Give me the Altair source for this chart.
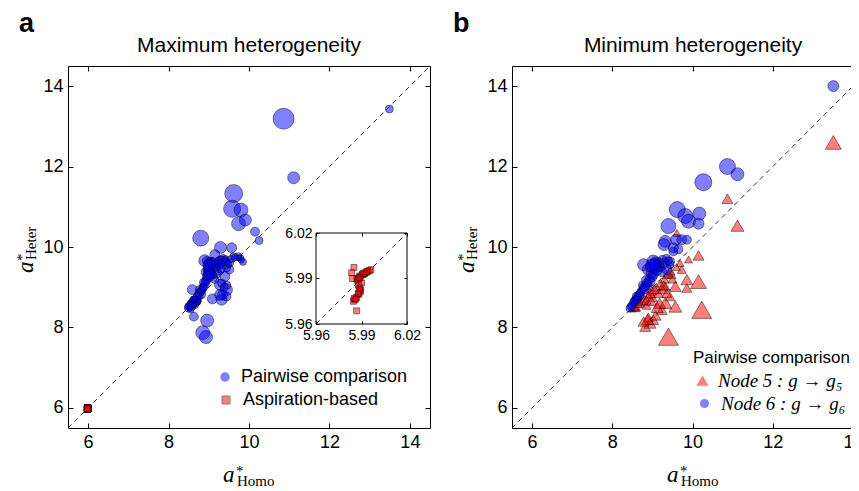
import altair as alt
import pandas as pd

# ---------------- data ----------------
# Panel a: pairwise comparison (a*_Homo, a*_Heter, marker weight)
pa_x = [10.86, 13.49, 11.11, 9.62, 9.58, 9.80, 9.74, 9.91, 10.15, 10.25, 8.80, 9.29, 9.57, 9.79,
        9.85, 8.90, 8.59, 8.63, 8.96, 8.85, 8.93, 9.28, 9.44, 9.09, 9.32, 9.44, 9.19, 9.40, 9.51,
        9.15, 9.73, 9.28, 9.34,
        8.49, 8.53, 8.56, 8.61, 8.66, 8.70, 8.74, 8.78, 8.82, 8.85, 8.90, 8.95, 9.01, 9.03, 8.98,
        9.05, 9.10, 9.15, 9.22, 9.28, 9.32, 9.36, 9.44, 9.52, 9.61, 9.75, 9.81, 9.00, 8.95, 9.05,
        8.62, 8.58, 8.68, 8.75, 8.88, 9.10, 9.20, 9.35, 9.45, 8.52, 8.57, 8.72, 8.80, 8.92, 9.02,
        9.00, 9.25, 9.40, 9.30, 9.45, 9.38,
        8.50, 8.55, 8.60, 8.64, 8.70, 8.76, 8.83, 8.87, 8.93, 8.97, 9.00, 9.04, 9.08, 9.12, 9.18,
        9.24, 9.30, 9.33, 9.42, 9.48, 9.55, 9.65, 8.98, 9.02, 8.96, 9.06, 8.66, 8.72, 8.55, 8.62]
pa_y = [13.19, 13.43, 11.72, 11.33, 10.95, 10.92, 10.58, 10.67, 10.38, 10.16, 10.22, 9.99, 9.98, 9.72,
        9.63, 9.66, 8.94, 8.27, 8.17, 7.87, 7.76, 8.81, 8.94, 8.71, 8.69, 8.77, 9.35, 9.27, 9.44,
        9.81, 9.76, 9.06, 8.81,
        8.48, 8.54, 8.58, 8.65, 8.56, 8.73, 8.69, 8.94, 8.81, 8.98, 9.06, 9.20, 9.61, 9.35, 9.45,
        9.50, 9.55, 9.19, 9.40, 9.67, 9.10, 9.70, 9.48, 9.60, 9.77, 9.73, 9.67, 9.30, 9.65, 9.65,
        8.60, 8.50, 8.62, 8.85, 9.12, 9.30, 9.55, 9.55, 9.62, 8.50, 8.62, 8.78, 8.90, 9.38, 9.40,
        9.55, 9.60, 9.65, 9.45, 9.05, 9.00,
        8.52, 8.57, 8.55, 8.68, 8.66, 8.80, 8.92, 9.00, 9.15, 9.30, 9.42, 9.36, 9.60, 9.62, 9.50,
        9.64, 9.58, 9.68, 9.70, 9.58, 9.70, 9.74, 9.55, 9.25, 9.28, 9.58, 8.70, 8.64, 8.45, 8.70]
pa_w = [21, 8, 12, 18, 17, 14, 14, 12, 9, 8, 16, 12, 10, 7,
        7, 12, 10, 9, 13, 14, 13, 11, 12, 10, 11, 9, 10, 10, 9,
        10, 8, 11, 10,
        8, 8, 8, 8, 7, 8, 7, 9, 8, 8, 9, 9, 10, 11, 10,
        9, 9, 8, 8, 9, 8, 9, 8, 8, 7, 6, 6, 10, 9, 8,
        8, 7, 8, 8, 9, 8, 8, 8, 7, 7, 7, 8, 8, 9, 10,
        9, 8, 8, 8, 8, 8,
        8, 8, 7, 8, 8, 8, 8, 8, 9, 9, 10, 9, 9, 9, 8,
        8, 8, 8, 7, 7, 7, 7, 10, 9, 9, 8, 7, 7, 7, 7]

# Panel a: aspiration-based (all near 5.99, shown in the inset)
asp_x = [5.9850, 5.9835, 5.9840, 5.9870, 5.9885, 5.9895, 5.9910, 5.9920, 5.9930, 5.9942, 5.9952,
         5.9962, 5.9905, 5.9880, 5.9875, 5.9880, 5.9890, 5.9895, 5.9890, 5.9880, 5.9868, 5.9855,
         5.9846, 5.9852, 5.9868, 5.9900, 5.9885, 5.9915, 5.9935, 5.9890, 5.9878, 5.9862]
asp_y = [5.9973, 5.9938, 5.9900, 5.9900, 5.9912, 5.9918, 5.9925, 5.9932, 5.9940, 5.9947, 5.9953,
         5.9958, 5.9930, 5.9895, 5.9885, 5.9856, 5.9840, 5.9820, 5.9810, 5.9795, 5.9775, 5.9760,
         5.9750, 5.9770, 5.9687, 5.9870, 5.9830, 5.9935, 5.9945, 5.9905, 5.9800, 5.9765]

# Panel b: node 6 (circles)
n6_x = [13.51, 10.87, 11.12, 10.27, 9.62, 9.82, 9.90, 10.17, 10.15, 9.40, 9.32, 9.59, 9.73, 9.86,
        9.65, 9.52, 9.29, 9.52, 9.02, 8.78, 8.90, 9.15, 9.23, 9.36, 9.44,
        8.44, 8.50, 8.53, 8.58, 8.61, 8.65, 8.69, 8.72, 8.78, 8.82, 8.86, 8.94, 8.98, 9.00, 9.05,
        9.10, 9.18, 9.25, 9.35, 9.44, 8.95, 9.08, 8.60, 8.75,
        8.47, 8.55, 8.63, 8.70, 8.80, 8.88, 8.92, 9.02, 9.12, 9.20, 9.30, 9.40, 9.06, 8.99, 8.84]
n6_y = [14.00, 12.00, 11.81, 11.61, 10.93, 10.77, 10.64, 10.83, 10.58, 10.52, 10.14, 10.18, 10.18, 10.18,
        9.94, 9.89, 10.06, 9.98, 9.64, 9.56, 9.44, 9.52, 9.39, 9.44, 9.64,
        8.48, 8.55, 8.62, 8.70, 8.69, 8.80, 8.81, 8.90, 8.98, 9.02, 9.10, 9.14, 9.35, 9.25, 9.45,
        9.55, 9.62, 9.68, 9.72, 9.56, 9.50, 9.62, 8.78, 9.05,
        8.52, 8.66, 8.75, 8.86, 8.95, 9.05, 9.20, 9.32, 9.42, 9.50, 9.60, 9.66, 9.58, 9.55, 9.18]
n6_w = [11, 16, 13, 17, 16, 15, 14, 13, 11, 15, 12, 11, 10, 9,
        9, 9, 12, 10, 13, 12, 12, 11, 10, 10, 9,
        8, 8, 8, 8, 9, 8, 9, 8, 9, 9, 9, 10, 11, 9, 10,
        10, 9, 9, 8, 8, 10, 11, 8, 8,
        8, 8, 8, 8, 9, 9, 9, 10, 10, 9, 9, 8, 11, 12, 9]

# Panel b: node 5 (triangles)
n5_x = [13.51, 10.87, 11.12, 10.15, 9.90, 9.69, 10.15, 10.23, 9.40, 9.86, 9.86, 9.57, 9.57, 9.32,
        9.23, 8.94, 8.82, 9.02, 8.90, 9.61, 9.73, 9.48, 9.44, 9.32, 9.60, 9.50,
        8.50, 8.60, 8.70, 8.80, 8.90, 9.00, 9.10, 9.20, 9.30, 9.00, 9.15, 9.25, 8.85, 9.35, 8.60,
        8.55, 8.65, 8.75, 8.95, 9.05, 9.40, 9.45, 8.85, 8.98, 9.28,
        8.88, 9.08, 9.18, 9.36, 8.78, 9.12]
n5_y = [12.60, 11.20, 10.53, 9.79, 9.69, 9.60, 9.14, 8.44, 7.77, 9.19, 8.98, 9.02, 8.52, 8.61,
        8.44, 8.11, 8.02, 8.19, 8.25, 10.35, 9.44, 9.31, 8.77, 9.02, 9.50, 9.20,
        8.47, 8.50, 8.60, 8.70, 8.80, 8.90, 9.00, 9.10, 9.20, 8.75, 8.85, 8.95, 8.55, 9.30, 8.48,
        8.50, 8.58, 8.65, 8.85, 8.95, 9.35, 9.40, 8.68, 8.65, 9.05,
        8.20, 8.30, 8.60, 8.85, 8.15, 8.50]
n5_w = [16, 11, 13, 11, 8, 8, 16, 20, 20, 12, 10, 12, 13, 13,
        11, 12, 11, 11, 10, 8, 9, 9, 10, 10, 8, 9,
        8, 8, 9, 9, 9, 9, 9, 9, 9, 10, 10, 10, 9, 8, 8,
        8, 8, 9, 10, 10, 9, 9, 10, 10, 10,
        12, 11, 12, 10, 11, 12]

TICKS = [6, 8, 10, 12, 14]
DOMAIN_A = [5.5, 14.5]
DOMAIN_B_X = [5.5, 14.15]
INSET_TICKS = [5.96, 5.99, 6.02]

TITLE_A = "Maximum heterogeneity"
TITLE_B = "Minimum heterogeneity"
LEG_A = ["Pairwise comparison", "Aspiration-based"]
LEG_B_TITLE = "Pairwise comparison"
LEG_B = ["Node 5 : g \u2192 g\u2085", "Node 6 : g \u2192 g\u2086"]

# ---------------- styling ----------------
FONT = "Liberation Sans"
SERIF = "Liberation Serif"
W = H = 362
WB = 347
BLUE = "#0000ff"
RED = "#ff0000"

dfA = pd.DataFrame({"x": pa_x, "y": pa_y, "w": pa_w, "s": LEG_A[0]})
dfAsp = pd.DataFrame({"x": asp_x, "y": asp_y, "s": LEG_A[1]})
df6 = pd.DataFrame({"x": n6_x, "y": n6_y, "w": n6_w, "s": LEG_B[1]})
df5 = pd.DataFrame({"x": n5_x, "y": n5_y, "w": n5_w, "s": LEG_B[0]})
diag = pd.DataFrame({"v": DOMAIN_A})
diag_in = pd.DataFrame({"v": [INSET_TICKS[0], INSET_TICKS[-1]]})
box_in = pd.DataFrame({"x1": [INSET_TICKS[0]], "x2": [INSET_TICKS[-1]],
                       "y1": [INSET_TICKS[0]], "y2": [INSET_TICKS[-1]]})

# inset placement in pixels inside panel a
IN_X = [248, 339]
IN_Y = [258, 167]


def sc(dom, rng=None):
    kw = dict(domain=dom, nice=False, zero=False)
    if rng is not None:
        kw["range"] = rng
    return alt.Scale(**kw)


def ax(orient, values, offset, labels=True, size=18, tick=5, pad=5):
    return alt.Axis(orient=orient, values=values, offset=offset, labels=labels, ticks=True,
                    tickSize=tick, tickColor="black", tickWidth=1, domain=False, grid=False,
                    title=None, labelFont=FONT, labelFontSize=size, labelColor="black",
                    labelPadding=pad, labelFlush=False, labelOverlap=False)


def frame_ax(orient):
    return alt.Axis(orient=orient, offset=0, domain=True, domainColor="black", domainWidth=1,
                    ticks=False, labels=False, grid=False, title=None)


SIZE = alt.Size("w:Q", scale=alt.Scale(type="pow", exponent=2, domain=[0, 20], range=[0, 400]),
                legend=None)


def base_layers(df, xdom, ydom, right=True):
    bl = alt.Chart(df).mark_point(opacity=0).encode(
        x=alt.X("x:Q", scale=sc(xdom), axis=ax("bottom", TICKS, -5)),
        y=alt.Y("y:Q", scale=sc(ydom), axis=ax("left", TICKS, -5)))
    tr = alt.Chart(df).mark_point(opacity=0).encode(
        x=alt.X("x:Q", scale=sc(xdom), axis=ax("top", TICKS, -5, labels=False)),
        y=alt.Y("y:Q", scale=sc(ydom), axis=ax("right", TICKS, -5, labels=False) if right else None))
    f1 = alt.Chart(df).mark_point(opacity=0).encode(
        x=alt.X("x:Q", scale=sc(xdom), axis=frame_ax("bottom")),
        y=alt.Y("y:Q", scale=sc(ydom), axis=frame_ax("left")))
    f2 = alt.Chart(df).mark_point(opacity=0).encode(
        x=alt.X("x:Q", scale=sc(xdom), axis=frame_ax("top")),
        y=alt.Y("y:Q", scale=sc(ydom), axis=frame_ax("right") if right else None))
    dl = alt.Chart(diag).mark_line(color="black", strokeWidth=0.8, strokeDash=[5, 4], clip=True).encode(
        x=alt.X("v:Q", scale=sc(xdom), axis=None), y=alt.Y("v:Q", scale=sc(ydom), axis=None))
    return [bl, tr, f1, f2, dl]


def leg(x, y, shape, size, offset, font=FONT, style="normal", title=None, stroke=0, fs=18, **kw):
    return alt.Legend(orient="none", legendX=x, legendY=y, title=title, symbolType=shape,
                      symbolSize=size, symbolOpacity=0.5, symbolStrokeWidth=stroke,
                      symbolStrokeColor="black", labelFont=font, labelFontSize=fs,
                      labelFontStyle=style, labelColor="black", labelOffset=offset, padding=0,
                      labelLimit=400, **kw)


def txt(s, x, y, **kw):
    props = dict(font=FONT, fontSize=15, align="left", baseline="alphabetic", color="black")
    props.update(kw)
    return alt.Chart(pd.DataFrame({"t": [s]})).mark_text(**props).encode(
        text="t:N", x=alt.value(x), y=alt.value(y))


def texts(letter, lx, ytitle_dx, title):
    return [
        txt(letter, lx, -34, fontSize=27, fontWeight="bold"),
        txt(title, 181, -14, fontSize=21, align="center"),
        # x title a*_Homo
        txt("a", 155, 416, font=SERIF, fontSize=23, fontStyle="italic"),
        txt("*", 168, 410, font=SERIF),
        txt("Homo", 169, 420, font=SERIF),
        # y title a*_Heter (rotated)
        txt("a", ytitle_dx, 207, font=SERIF, fontSize=23, fontStyle="italic", angle=270),
        txt("*", ytitle_dx - 6, 195, font=SERIF, angle=270),
        txt("Heter", ytitle_dx + 3, 194, font=SERIF, angle=270),
    ]


PT = dict(filled=True, opacity=1, fillOpacity=0.5, stroke="black", strokeOpacity=0.45, strokeWidth=1)

# ---------------- panel a ----------------
asp_main = alt.Chart(dfAsp).mark_point(shape="square", size=40, **PT).encode(
    x=alt.X("x:Q", scale=sc(DOMAIN_A), axis=None), y=alt.Y("y:Q", scale=sc(DOMAIN_A), axis=None),
    color=alt.Color("s:N", scale=alt.Scale(domain=[LEG_A[1]], range=[RED]),
                    legend=leg(149, 325, "square", 64, 8, stroke=1)))
circ_a = alt.Chart(dfA).mark_point(shape="circle", **PT).encode(
    x=alt.X("x:Q", scale=sc(DOMAIN_A), axis=None), y=alt.Y("y:Q", scale=sc(DOMAIN_A), axis=None),
    size=SIZE,
    color=alt.Color("s:N", scale=alt.Scale(domain=[LEG_A[0]], range=[BLUE]),
                    legend=leg(148, 302, "circle", 90, 7)))
IDOM = [INSET_TICKS[0], INSET_TICKS[-1]]
in_box = alt.Chart(box_in).mark_rect(fillOpacity=0, stroke="black", strokeWidth=1).encode(
    x=alt.X("x1:Q", scale=sc(IDOM, IN_X), axis=ax("top", INSET_TICKS, -170, labels=False, tick=3)),
    x2="x2:Q",
    y=alt.Y("y1:Q", scale=sc(IDOM, IN_Y), axis=ax("right", INSET_TICKS, -26, labels=False, tick=3)),
    y2="y2:Q")
in_diag = alt.Chart(diag_in).mark_line(color="black", strokeWidth=0.8, strokeDash=[5, 4]).encode(
    x=alt.X("v:Q", scale=sc(IDOM, IN_X), axis=None),
    y=alt.Y("v:Q", scale=sc(IDOM, IN_Y), axis=None))
in_sq = alt.Chart(dfAsp).mark_point(shape="square", size=36, **PT).encode(
    x=alt.X("x:Q", scale=sc(IDOM, IN_X), axis=ax("bottom", INSET_TICKS, -107, size=14, tick=3, pad=4)),
    y=alt.Y("y:Q", scale=sc(IDOM, IN_Y), axis=ax("left", INSET_TICKS, -251, size=14, tick=3, pad=4)),
    color=alt.Color("s:N", scale=alt.Scale(domain=[LEG_A[1]], range=[RED]), legend=None))

panel_a = alt.layer(*base_layers(dfA, DOMAIN_A, DOMAIN_A), asp_main, circ_a, in_box, in_diag, in_sq,
                    *texts("a", -49, -35, TITLE_A)).resolve_scale(
    x="independent", y="independent", color="independent", size="independent").properties(
    width=W, height=H)

# ---------------- panel b ----------------
tri = alt.Chart(df5).mark_point(shape="triangle-up", **PT).encode(
    x=alt.X("x:Q", scale=sc(DOMAIN_B_X), axis=None), y=alt.Y("y:Q", scale=sc(DOMAIN_A), axis=None),
    size=SIZE,
    color=alt.Color("s:N", scale=alt.Scale(domain=[LEG_B[0]], range=[RED]),
                    legend=leg(181, 284, "triangle-up", 150, 6, font=SERIF, style="italic", fs=19,
                               title=LEG_B_TITLE, titleFont=FONT, titleFontSize=17,
                               titleFontWeight="normal", titleColor="black", titlePadding=4)))
circ_b = alt.Chart(df6).mark_point(shape="circle", **PT).encode(
    x=alt.X("x:Q", scale=sc(DOMAIN_B_X), axis=None), y=alt.Y("y:Q", scale=sc(DOMAIN_A), axis=None),
    size=SIZE,
    color=alt.Color("s:N", scale=alt.Scale(domain=[LEG_B[1]], range=[BLUE]),
                    legend=leg(183, 328, "circle", 81, 7, font=SERIF, style="italic", fs=19)))

panel_b = alt.layer(*base_layers(df6, DOMAIN_B_X, DOMAIN_A, right=False), tri, circ_b,
                    *texts("b", -59, -38, TITLE_B)).resolve_scale(
    x="independent", y="independent", color="independent", size="independent").properties(
    width=WB, height=H)

chart = alt.hconcat(panel_a, panel_b, spacing=82, bounds="flush").configure_view(
    stroke=None).properties(
    padding={"left": 7, "top": 2, "right": -12, "bottom": 0}, background="white")

chart.save("out.html", embed_options={"renderer": "svg", "actions": False})
